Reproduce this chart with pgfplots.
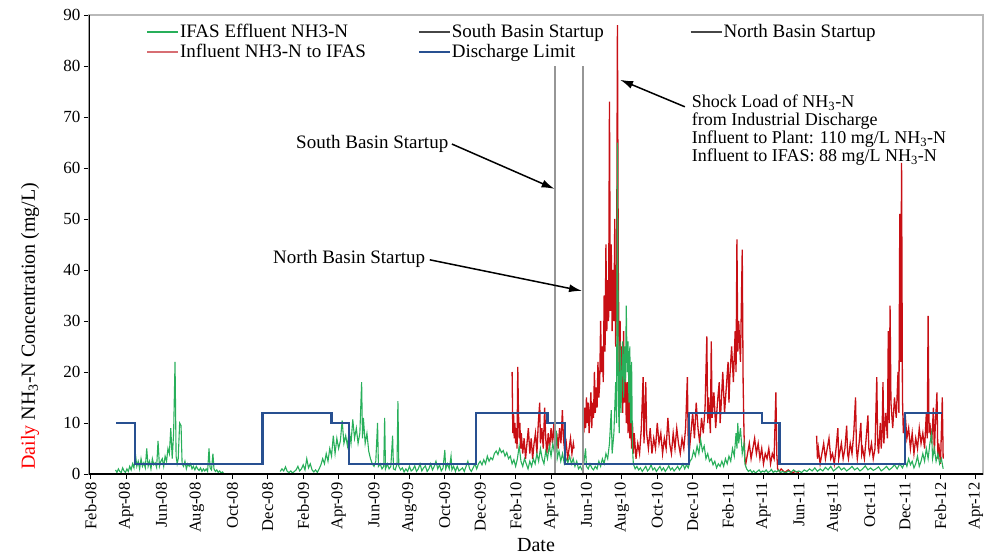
\documentclass[border=0pt]{standalone}
\usepackage{pgfplots}
\pgfplotsset{compat=1.18}
\usepackage{fontspec}
\setmainfont{Liberation Serif}
\usetikzlibrary{arrows.meta}
\definecolor{effgreen}{RGB}{40,175,90}
\definecolor{infred}{RGB}{200,15,20}
\definecolor{lgdred}{RGB}{215,110,115}
\definecolor{limblue}{RGB}{40,80,145}
\definecolor{vgray}{RGB}{150,150,150}
\definecolor{lgdgray}{RGB}{70,70,70}
\begin{document}
\begin{tikzpicture}
\begin{axis}[
  at={(0pt,0pt)}, anchor=south west,
  scale only axis, width=894pt, height=459pt,
  xmin=-0.1, xmax=50.4, ymin=0, ymax=90,
  xtick={0,2,...,50},
  xticklabels={Feb-08,Apr-08,Jun-08,Aug-08,Oct-08,Dec-08,Feb-09,Apr-09,Jun-09,Aug-09,Oct-09,Dec-09,Feb-10,Apr-10,Jun-10,Aug-10,Oct-10,Dec-10,Feb-11,Apr-11,Jun-11,Aug-11,Oct-11,Dec-11,Feb-12,Apr-12},
  ytick={0,10,...,90},
  /pgf/number format/assume math mode=true,
  xticklabel style={rotate=90, anchor=east, font=\fontsize{16.5}{16.5}\selectfont},
  yticklabel style={font=\fontsize{17}{17}\selectfont},
  tick align=outside, xtick pos=bottom, ytick pos=left,
  major tick length=5pt,
  tick style={black, line width=1pt},
  axis line style={draw=gray!55, line width=1.5pt},
  xlabel={Date},
  xlabel style={at={(axis description cs:0.5,-0.155)}, anchor=center, font=\fontsize{20}{20}\selectfont},
  ylabel={\textcolor{red}{Daily} NH\textsubscript{3}-N Concentration (mg/L)},
  ylabel style={at={(axis description cs:-0.066,0.322)}, anchor=center, font=\fontsize{20}{20}\selectfont},
  unbounded coords=jump,
  legend columns=3,
  legend cell align=left,
  legend style={draw=none, fill=none, at={(rel axis cs:0.064,0.982)}, anchor=north west,
    font=\fontsize{19}{19}\selectfont, inner xsep=0pt, inner ysep=0pt, row sep=3pt,
    nodes={inner sep=1pt}},
]
\addlegendimage{legend image code/.code={\draw[effgreen, line width=1.6pt] (0pt,0pt) -- (31pt,0pt);}}
\addlegendentry{\makebox[237pt][l]{IFAS Effluent NH3-N}}
\addlegendimage{legend image code/.code={\draw[lgdgray, line width=1.8pt] (0pt,0pt) -- (31pt,0pt);}}
\addlegendentry{\makebox[237pt][l]{South Basin Startup}}
\addlegendimage{legend image code/.code={\draw[lgdgray, line width=1.8pt] (0pt,0pt) -- (31pt,0pt);}}
\addlegendentry{North Basin Startup}
\addlegendimage{legend image code/.code={\draw[lgdred, line width=1.6pt] (0pt,0pt) -- (31pt,0pt);}}
\addlegendentry{\makebox[237pt][l]{Influent NH3-N to IFAS}}
\addlegendimage{legend image code/.code={\draw[limblue, line width=1.8pt] (0pt,0pt) -- (31pt,0pt);}}
\addlegendentry{\makebox[237pt][l]{Discharge Limit}}

% Influent NH3-N to IFAS
\addplot[infred, line width=1.3pt, forget plot] table {
x y
23.80 20
23.84 8
23.88 12
23.92 7
23.96 10
24.00 6
24.04 9
24.08 5
24.12 21
24.16 12
24.20 7
24.24 10
24.28 5
24.32 8
24.40 4
24.48 7
24.56 3
24.64 6
24.72 9
24.80 4
24.88 7
24.96 3
25.04 6
25.12 8
25.20 4
25.28 10
25.36 14
25.40 6
25.48 9
25.56 5
25.64 13
25.70 7
25.76 4
25.84 8
25.92 5
26.00 9
26.08 6
26.16 10
26.24 4
26.32 8
26.40 5
26.48 9
26.56 6
26.64 12.5
26.70 7
26.78 4
26.86 6
26.94 3
27.02 5
27.10 7
27.18 4
27.26 6
27.30 5
27.31 nan
27.85 8
27.90 13
27.95 9
28.00 15
28.05 10
28.10 14
28.15 8
28.20 12
28.25 16
28.30 9
28.35 14
28.40 11
28.45 20
28.50 12
28.55 17
28.60 13
28.65 22
28.70 15
28.75 18
28.80 30
28.85 20
28.90 25
28.95 18
29.00 35
29.05 24
29.10 45
29.15 28
29.20 38
29.25 30
29.30 73
29.35 32
29.40 45
29.45 28
29.50 40
29.55 30
29.60 50
29.65 25
29.70 35
29.75 88
29.80 40
29.85 20
29.90 30
29.95 15
30.00 25
30.05 12
30.10 28
30.15 14
30.20 20
30.25 10
30.30 18
30.35 8
30.40 16
30.45 7
30.50 12
30.55 5
30.60 10
30.65 4
30.70 8
30.80 3
30.90 6
31.00 4
31.10 9
31.20 19
31.25 6
31.35 18
31.40 8
31.50 5
31.60 9
31.70 4
31.80 7
31.90 5
32.00 10
32.10 6
32.20 8
32.30 4
32.40 7
32.50 5
32.60 11
32.70 6
32.80 4
32.90 8
33.00 5
33.10 9
33.20 6
33.30 4
33.40 7
33.50 5
33.60 9
33.70 19
33.75 6
33.80 4
33.90 8
34.00 12
34.10 7
34.20 14
34.30 9
34.40 6
34.50 11
34.60 8
34.70 13
34.80 27
34.85 10
34.90 15
35.00 8
35.05 26
35.10 11
35.20 16
35.30 9
35.40 14
35.50 18
35.55 10
35.60 13
35.70 20
35.80 12
35.90 17
36.00 22
36.05 14
36.10 19
36.20 25
36.30 18
36.40 28
36.45 20
36.50 46
36.55 24
36.60 30
36.70 22
36.80 44
36.85 18
36.90 8
36.95 3
37.00 2
37.10 4
37.20 6
37.30 3
37.40 5
37.50 7
37.60 4
37.70 6
37.80 3
37.90 5
38.00 2
38.10 4
38.20 3
38.30 5
38.40 2
38.50 4
38.60 3
38.70 16
38.75 4
38.80 1
38.90 0.5
39.00 1
39.20 0.3
39.40 0.8
39.60 0.2
39.80 0.5
40.00 0.3
40.01 nan
41.00 7.5
41.05 3
41.10 5
41.20 2
41.30 4
41.40 6
41.50 3
41.60 5
41.70 7
41.80 3
41.90 4
42.00 2
42.10 5
42.20 9
42.25 3
42.30 4
42.40 6
42.50 3
42.60 5
42.70 9.5
42.75 4
42.80 3
42.90 6
43.00 4
43.10 8
43.20 15
43.25 5
43.30 3
43.40 6
43.50 10
43.55 4
43.60 5
43.70 3
43.80 7
43.90 11.5
43.95 5
44.00 4
44.10 6
44.20 3
44.30 5
44.40 19
44.45 6
44.50 4
44.60 10
44.65 5
44.70 8
44.75 18
44.80 6
44.90 12
45.00 7
45.05 28
45.10 10
45.15 33
45.20 14
45.30 9
45.40 15
45.50 11
45.60 20
45.65 12
45.70 51
45.75 22
45.80 61
45.85 15
45.90 8
46.00 12
46.10 7
46.20 9
46.30 5
46.40 8
46.50 4
46.60 7
46.70 5
46.80 9
46.90 6
47.00 8
47.10 5
47.20 12
47.25 7
47.30 31
47.35 8
47.40 10
47.50 6
47.60 13
47.65 4
47.70 9
47.80 16
47.85 3
47.90 6
48.00 2
48.10 15
48.15 3
};

% IFAS Effluent NH3-N
\addplot[effgreen, line width=1.1pt, forget plot] table {
x y
1.40 0.8
1.48 0.3
1.56 1.0
1.64 0.5
1.72 0.3
1.80 1.2
1.88 0.6
1.96 0.3
2.04 1.0
2.12 0.5
2.20 1.5
2.28 0.8
2.36 2.0
2.44 1.2
2.52 4.0
2.60 1.5
2.68 2.5
2.76 1.0
2.84 3.0
2.92 1.5
3.00 2.2
3.08 1.2
3.16 5.0
3.24 1.5
3.32 2.5
3.40 1.0
3.48 3.0
3.56 1.8
3.64 2.2
3.72 1.3
3.80 6.5
3.88 1.5
3.96 2.5
4.04 3.0
4.12 1.5
4.20 3.5
4.28 2.5
4.36 5.0
4.44 4.0
4.52 9.0
4.60 3.0
4.68 8.0
4.76 22.0
4.82 3.5
4.88 2.0
4.94 3.0
5.02 10.0
5.10 9.5
5.16 2.0
5.24 1.5
5.32 2.5
5.40 1.0
5.48 2.0
5.56 1.5
5.64 2.0
5.72 1.0
5.80 1.5
5.88 0.8
5.96 1.5
6.04 1.0
6.12 0.7
6.20 1.2
6.28 0.5
6.36 1.0
6.44 0.6
6.52 1.0
6.60 0.5
6.68 5.0
6.74 1.2
6.82 0.8
6.90 4.0
6.96 1.0
7.04 0.5
7.12 0.8
7.20 0.3
7.28 0.6
7.36 0.2
7.44 0.4
7.52 0.1
7.53 nan
10.70 0.5
10.80 1.0
10.90 0.6
11.00 1.4
11.10 0.5
11.20 0.3
11.30 0.6
11.40 0.2
11.50 0.5
11.60 0.8
11.70 1.5
11.80 0.6
11.90 1.0
12.00 1.8
12.10 0.8
12.20 3.0
12.30 1.2
12.40 2.0
12.50 0.8
12.60 0.4
12.70 0.8
12.80 0.3
12.90 1.0
13.00 1.8
13.10 3.0
13.20 2.0
13.30 4.0
13.40 2.5
13.50 5.0
13.60 3.5
13.70 7.5
13.80 4.0
13.90 7.0
14.00 5.0
14.10 6.5
14.20 10.5
14.30 6.0
14.40 7.5
14.50 5.5
14.60 8.5
14.70 6.0
14.80 10.7
14.90 7.0
15.00 9.0
15.10 6.0
15.20 8.0
15.30 18.0
15.35 7.0
15.40 11.0
15.50 6.0
15.60 8.0
15.70 4.5
15.80 3.0
15.90 2.0
16.00 1.5
16.10 2.5
16.20 10.0
16.25 1.5
16.35 2.0
16.45 1.0
16.55 1.5
16.60 11.0
16.65 1.0
16.75 2.0
16.85 1.0
16.95 1.5
17.05 7.5
17.10 1.0
17.20 0.8
17.30 2.0
17.35 14.3
17.40 1.5
17.50 0.8
17.60 1.2
17.70 0.4
17.80 1.0
17.90 0.5
18.00 1.5
18.10 0.6
18.20 0.9
18.30 1.6
18.40 0.5
18.50 1.0
18.60 2.0
18.70 0.6
18.80 1.2
18.90 1.6
19.00 0.5
19.10 1.0
19.20 2.0
19.30 0.8
19.40 1.5
19.50 2.5
19.60 1.0
19.70 1.8
19.80 0.6
19.90 1.2
20.00 4.7
20.05 1.0
20.15 2.0
20.25 1.0
20.35 3.5
20.40 0.8
20.50 1.5
20.60 0.5
20.70 1.5
20.80 0.6
20.90 0.9
21.00 1.2
21.10 0.5
21.20 1.5
21.30 2.5
21.40 1.0
21.50 0.5
21.60 1.2
21.70 2.0
21.80 1.0
21.90 2.0
22.00 2.5
22.10 1.8
22.20 2.8
22.30 2.0
22.40 3.5
22.50 2.5
22.60 3.2
22.70 2.8
22.80 4.0
22.90 4.5
23.00 3.8
23.10 5.0
23.20 4.2
23.30 4.6
23.40 3.5
23.50 4.2
23.60 3.0
23.70 3.5
23.80 2.0
23.90 2.8
24.00 1.5
24.10 3.0
24.20 5.5
24.30 2.5
24.40 1.5
24.50 3.0
24.60 2.0
24.70 1.0
24.80 2.5
24.90 1.5
25.00 3.0
25.10 2.0
25.20 4.0
25.30 2.5
25.40 5.0
25.50 3.0
25.60 2.0
25.70 4.5
25.80 3.0
25.90 5.5
26.00 3.5
26.10 6.0
26.20 4.0
26.30 8.5
26.35 3.0
26.45 4.5
26.55 2.5
26.65 4.0
26.75 2.0
26.85 3.0
26.95 2.2
27.05 3.5
27.15 2.0
27.25 3.0
27.35 1.5
27.45 2.5
27.55 1.0
27.65 1.5
27.75 0.8
27.85 2.0
27.95 5.0
28.00 1.5
28.10 1.0
28.20 2.0
28.30 1.2
28.40 0.8
28.50 1.5
28.60 1.0
28.70 2.5
28.80 1.5
28.90 3.0
29.00 2.0
29.10 4.0
29.20 3.0
29.30 6.0
29.40 12.5
29.45 4.0
29.55 8.0
29.65 18.0
29.70 10.0
29.75 65.0
29.80 15.0
29.85 8.0
29.90 26.0
29.95 12.0
30.00 20.0
30.05 26.0
30.10 15.0
30.15 25.0
30.20 18.0
30.25 33.0
30.30 20.0
30.35 26.0
30.40 14.0
30.45 25.0
30.50 10.0
30.55 22.0
30.60 5.0
30.65 2.0
30.75 1.0
30.85 1.5
30.95 0.8
31.05 1.2
31.15 0.5
31.25 1.0
31.35 1.5
31.45 0.6
31.55 1.0
31.65 1.8
31.75 0.8
31.85 1.2
31.95 0.5
32.05 1.0
32.15 1.5
32.25 0.7
32.35 1.2
32.45 0.5
32.55 1.0
32.65 1.6
32.75 0.8
32.85 1.2
32.95 0.6
33.05 1.0
33.15 1.5
33.25 0.8
33.35 1.3
33.45 2.0
33.55 1.0
33.65 1.8
33.75 1.2
33.85 2.5
33.95 3.0
34.05 4.5
34.15 3.5
34.25 5.5
34.35 4.0
34.45 6.7
34.55 4.5
34.65 5.5
34.75 3.0
34.85 4.0
34.95 2.5
35.05 3.0
35.15 1.8
35.25 2.5
35.35 1.2
35.45 2.0
35.55 1.5
35.65 2.5
35.75 1.5
35.85 3.0
35.95 2.0
36.05 3.5
36.15 2.5
36.25 5.0
36.35 3.5
36.45 8.0
36.50 5.0
36.55 10.0
36.60 6.0
36.70 9.0
36.80 4.0
36.90 6.0
36.95 2.0
37.05 1.0
37.15 0.5
37.25 0.8
37.35 0.3
37.45 0.6
37.55 0.2
37.65 0.5
37.75 0.8
37.85 0.3
37.95 0.6
38.05 0.4
38.15 0.8
38.25 0.3
38.35 0.5
38.45 0.9
38.55 0.3
38.65 0.6
38.75 0.4
38.85 0.8
38.95 0.3
39.10 0.5
39.25 0.2
39.40 0.6
39.55 0.3
39.70 0.8
39.85 0.4
40.00 0.6
40.15 0.3
40.30 0.8
40.45 0.5
40.60 1.0
40.75 0.6
40.90 1.2
41.05 0.5
41.20 1.0
41.35 0.6
41.50 1.3
41.65 0.8
41.80 1.5
41.95 0.6
42.10 1.0
42.25 1.5
42.40 0.8
42.55 1.2
42.70 0.6
42.85 1.0
43.00 1.5
43.15 0.8
43.30 1.2
43.45 0.6
43.60 1.0
43.75 1.6
43.90 0.8
44.05 1.2
44.20 0.7
44.35 1.0
44.50 1.4
44.65 0.6
44.80 1.0
44.95 1.5
45.10 0.8
45.25 1.2
45.40 1.8
45.55 1.0
45.70 2.0
45.85 1.2
46.00 2.5
46.10 1.5
46.20 3.0
46.30 1.8
46.40 2.5
46.50 1.2
46.60 2.0
46.70 3.5
46.80 1.5
46.90 2.5
47.00 4.0
47.10 2.5
47.20 5.0
47.30 3.0
47.40 6.0
47.50 8.0
47.55 3.0
47.65 5.0
47.75 2.5
47.85 4.0
47.95 2.0
48.05 3.0
48.15 1.0
};

% Discharge limit
\addplot[limblue, line width=2.2pt, forget plot] coordinates {
(1.45,10)(2.5,10)(2.5,2)(9.7,2)(9.7,12)(13.6,12)(13.6,10)(14.6,10)(14.6,2)
(21.75,2)(21.75,12)(25.8,12)(25.8,10)(26.8,10)(26.8,2)(33.8,2)(33.8,12)
(37.9,12)(37.9,10)(38.9,10)(38.9,2)(46.0,2)(46.0,12)(48.1,12)};

% Basin startups
\addplot[vgray, line width=2pt, forget plot] coordinates {(26.25,0)(26.25,80)};
\addplot[vgray, line width=2pt, forget plot] coordinates {(27.8,0)(27.8,80)};

% frame: left and bottom in black
\draw[black, line width=1.5pt] (rel axis cs:0,1) -- (rel axis cs:0,0) -- (rel axis cs:1,0);

% annotations
\node[font=\fontsize{19}{19}\selectfont, inner sep=0pt] at (axis cs:15.9,64.7) {South Basin Startup};
\draw[-{Latex[length=13pt,width=8pt]}, line width=1.5pt] (axis cs:20.4,64.7) -- (axis cs:26.2,55.9);
\node[font=\fontsize{19}{19}\selectfont, inner sep=0pt] at (axis cs:14.6,42.2) {North Basin Startup};
\draw[-{Latex[length=13pt,width=8pt]}, line width=1.5pt] (axis cs:19.15,42.0) -- (axis cs:27.75,35.9);
\draw[-{Latex[length=13pt,width=8pt]}, line width=1.5pt] (axis cs:33.56,72.0) -- (axis cs:29.9,77.3);
\node[anchor=north west, align=left, inner sep=0pt, font=\fontsize{18}{18}\selectfont] at (axis cs:33.95,74.4)
 {Shock Load of NH\textsubscript{3}-N\\from Industrial Discharge\\Influent to Plant: 110 mg/L NH\textsubscript{3}-N\\Influent to IFAS: 88 mg/L NH\textsubscript{3}-N};
\end{axis}
\pgfresetboundingbox
\path[use as bounding box] (-89pt,-84pt) rectangle (897pt,474pt);
\end{tikzpicture}
\end{document}
